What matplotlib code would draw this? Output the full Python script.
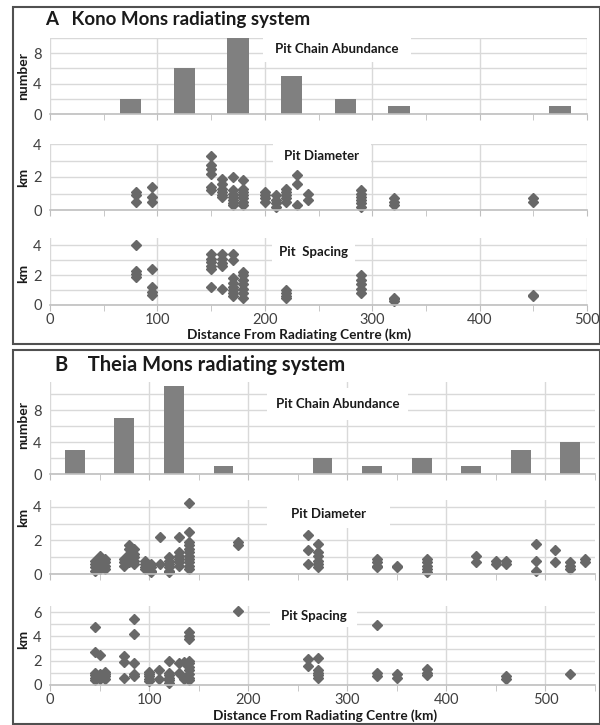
import matplotlib
matplotlib.use("Agg")
import matplotlib.pyplot as plt
from matplotlib.patches import Rectangle
from matplotlib.ticker import MultipleLocator, FixedLocator, NullFormatter

plt.rcParams['font.family'] = ['Lato', 'DejaVu Sans']

# ---------------- DATA ----------------
# Panel A: Kono Mons
a_bar_x = [75, 125, 175, 225, 275, 325, 475]
a_bar_n = [2, 6, 10, 5, 2, 1, 1]

a_diam_x = [80, 80, 80, 95, 95, 95,
            150, 150, 150, 150, 150, 150,
            160, 160, 160, 160, 160, 160,
            170, 170, 170, 170, 170, 170, 170,
            180, 180, 180, 180, 180, 180, 180,
            200, 200, 200, 200, 210, 210, 210, 210,
            220, 220, 220, 220, 220, 230, 230, 230, 240, 240,
            290, 290, 290, 290, 290, 290, 320, 320, 320, 450, 450]
a_diam_y = [1.1, 0.9, 0.5, 1.4, 0.8, 0.5,
            3.3, 2.7, 2.5, 2.2, 1.4, 1.2,
            1.9, 1.6, 1.3, 1.1, 0.9, 0.8,
            2.0, 1.2, 1.0, 0.8, 0.6, 0.4, 0.3,
            1.8, 1.3, 1.1, 0.9, 0.7, 0.5, 0.3,
            1.1, 0.9, 0.7, 0.5, 0.9, 0.6, 0.4, 0.2,
            1.3, 1.1, 0.9, 0.7, 0.5, 2.1, 1.6, 0.3, 1.0, 0.6,
            1.2, 1.0, 0.8, 0.6, 0.4, 0.2, 0.7, 0.5, 0.3, 0.7, 0.5]

a_spac_x = [80, 80, 80, 80, 95, 95, 95, 95,
            150, 150, 150, 150, 150, 150,
            160, 160, 160, 160, 160,
            170, 170, 170, 170, 170, 170, 170, 170,
            180, 180, 180, 180, 180, 180, 180,
            220, 220, 220, 220, 290, 290, 290, 290, 290,
            320, 320, 320, 450, 450]
a_spac_y = [4.0, 2.3, 2.1, 1.9, 2.4, 1.2, 0.9, 0.7,
            3.4, 3.1, 2.9, 2.6, 2.4, 1.2,
            3.4, 3.1, 2.8, 2.6, 1.1,
            3.4, 3.0, 1.8, 1.5, 1.2, 1.0, 0.8, 0.6,
            2.2, 2.0, 1.7, 1.4, 1.1, 0.8, 0.5,
            1.0, 0.8, 0.6, 0.5, 2.0, 1.7, 1.4, 1.1, 0.8,
            0.5, 0.4, 0.3, 0.7, 0.6]

# Panel B: Theia Mons
b_bar_x = [25, 75, 125, 175, 275, 325, 375, 425, 475, 525]
b_bar_n = [3, 7, 11, 1, 2, 1, 2, 1, 3, 4]

b_diam_x = [45, 45, 45, 45, 50, 50, 50, 50, 50, 55, 55, 55, 55,
            75, 75, 75, 80, 80, 80, 80, 80, 85, 85, 85, 85, 85,
            96, 96, 96, 96, 102, 102, 102, 102, 111, 111,
            120, 120, 120, 120, 120, 120, 130, 130, 130, 130, 130, 130,
            140, 140, 140, 140, 140, 140, 140, 140, 140, 140, 140,
            190, 190, 260, 260, 260, 270, 270, 270, 270, 270, 270,
            330, 330, 330, 330, 350, 350, 380, 380, 380, 380, 380,
            430, 430, 450, 450, 460, 460, 490, 490, 490, 510, 510,
            525, 525, 525, 540, 540]
b_diam_y = [0.2, 0.4, 0.6, 0.8, 0.3, 0.5, 0.7, 0.9, 1.1, 0.3, 0.5, 0.7, 0.9,
            0.5, 0.7, 0.9, 1.7, 1.5, 1.2, 0.9, 0.7, 1.5, 1.2, 1.0, 0.8, 0.6,
            0.8, 0.6, 0.4, 0.3, 0.6, 0.4, 0.2, 0.1, 2.2, 0.6,
            1.0, 0.8, 0.6, 0.4, 0.2, 0.1, 2.2, 1.3, 1.1, 0.9, 0.7, 0.5,
            4.2, 2.5, 1.9, 1.7, 1.5, 1.3, 1.1, 0.9, 0.7, 0.5, 0.3,
            1.9, 1.7, 2.3, 1.4, 0.6, 1.8, 1.3, 1.1, 0.8, 0.6, 0.4,
            0.9, 0.7, 0.5, 0.4, 0.5, 0.4, 0.9, 0.7, 0.5, 0.3, 0.1,
            1.1, 0.7, 0.8, 0.6, 0.8, 0.6, 1.8, 0.8, 0.2, 1.4, 0.7,
            0.7, 0.5, 0.3, 0.9, 0.7]

b_spac_x = [45, 45, 45, 45, 45, 45, 50, 50, 50, 50, 55, 55, 55, 55,
            75, 75, 75, 85, 85, 85, 85, 85, 100, 100, 100, 100, 100,
            110, 110, 120, 120, 120, 120, 120, 120, 130, 130, 135, 135,
            140, 140, 140, 140, 140, 140, 140, 140, 140, 140, 190,
            260, 260, 270, 270, 270, 270, 270, 330, 330, 330,
            350, 350, 380, 380, 380, 460, 460, 525]
b_spac_y = [4.8, 2.7, 1.0, 0.8, 0.6, 0.4, 2.5, 0.9, 0.7, 0.5, 1.1, 0.9, 0.7, 0.5,
            2.4, 1.9, 0.6, 5.4, 4.2, 1.8, 0.9, 0.7, 1.1, 0.9, 0.7, 0.5, 0.3,
            1.2, 0.5, 2.0, 1.0, 0.8, 0.6, 0.4, 0.2, 1.8, 1.0, 1.9, 0.5,
            4.4, 4.0, 3.8, 2.0, 1.8, 1.5, 1.2, 0.9, 0.6, 0.4, 6.1,
            2.1, 1.6, 2.2, 1.2, 1.0, 0.8, 0.6, 4.9, 1.0, 0.7,
            0.9, 0.6, 1.3, 1.0, 0.8, 0.7, 0.5, 0.9]

# ---------------- STYLE ----------------
W, H = 600, 725
fig = plt.figure(figsize=(W / 100, H / 100), dpi=100)
fig.patch.set_facecolor('white')

GRID = '#d9d9d9'
BAR = '#808080'
PT = '#686868'
TXT = '#404040'


def make_ax(l, t, r, b):
    return fig.add_axes([l / W, 1 - b / H, (r - l) / W, (b - t) / H])


def style(ax, xlim, ylim, ymaj, ymin, show_x):
    ax.set_xlim(*xlim)
    ax.set_ylim(*ylim)
    ax.set_axisbelow(True)
    for s in ['left', 'right', 'top']:
        ax.spines[s].set_visible(False)
    ax.spines['bottom'].set_color('#bfbfbf')
    ax.spines['bottom'].set_linewidth(1.2)
    ax.xaxis.set_major_locator(FixedLocator(list(range(0, int(xlim[1]) + 1, 100))))
    ax.xaxis.set_minor_locator(MultipleLocator(50))
    ax.yaxis.set_major_locator(FixedLocator(ymaj))
    ax.yaxis.set_minor_locator(FixedLocator(ymin))
    ax.grid(True, which='major', axis='x', color=GRID, lw=1.0)
    ax.grid(True, which='both', axis='y', color=GRID, lw=1.0)
    ax.tick_params(axis='x', which='both', direction='out', length=4,
                   color='#bfbfbf', labelsize=10.5, labelcolor=TXT, pad=2)
    ax.tick_params(axis='y', which='both', length=0, labelsize=10.5,
                   labelcolor=TXT, pad=6)
    if not show_x:
        ax.xaxis.set_major_formatter(NullFormatter())


def label_box(ax, axbox, px, text, fs=9.5):
    l, t, r, b = axbox
    x0, y0, x1, y1 = px
    fx0 = (x0 - l) / (r - l)
    fx1 = (x1 - l) / (r - l)
    fy0 = (b - y1) / (b - t)
    fy1 = (b - y0) / (b - t)
    ax.add_patch(Rectangle((fx0, fy0), fx1 - fx0, fy1 - fy0, transform=ax.transAxes,
                           facecolor='white', edgecolor='none', zorder=1.5, clip_on=False))
    ax.text((fx0 + fx1) / 2, (fy0 + fy1) / 2, text, transform=ax.transAxes,
            ha='center', va='center', fontsize=fs, fontweight='bold', color='#1a1a1a', zorder=3)


# ---------------- PANEL A ----------------
A1 = (50, 38, 587, 114)
ax = make_ax(*A1)
style(ax, (0, 500), (0, 10), [0, 4, 8], [2, 6, 10], False)
ax.bar(a_bar_x, a_bar_n, width=20, color=BAR, zorder=2)
label_box(ax, A1, (263, 36, 411, 62), 'Pit Chain Abundance')

A2 = (50, 144, 587, 210)
ax = make_ax(*A2)
style(ax, (0, 500), (0, 4), [0, 2, 4], [1, 3], False)
ax.plot(a_diam_x, a_diam_y, 'D', ms=4.6, color=PT, zorder=2, clip_on=False)
label_box(ax, A2, (273, 143, 371, 170), 'Pit Diameter')

A3 = (50, 238, 587, 305)
ax = make_ax(*A3)
style(ax, (0, 500), (0, 4.5), [0, 2, 4], [1, 3], True)
ax.plot(a_spac_x, a_spac_y, 'D', ms=4.6, color=PT, zorder=2, clip_on=False)
label_box(ax, A3, (272, 238, 355, 266), 'Pit  Spacing')

# ---------------- PANEL B ----------------
B1 = (50, 382, 595, 474)
ax = make_ax(*B1)
style(ax, (0, 550), (0, 11.5), [0, 4, 8], [2, 6, 10], False)
ax.bar(b_bar_x, b_bar_n, width=20, color=BAR, zorder=2)
label_box(ax, B1, (267, 388, 408, 420), 'Pit Chain Abundance')

B2 = (50, 500, 595, 574)
ax = make_ax(*B2)
style(ax, (0, 550), (0, 4.4), [0, 2, 4], [1, 3], False)
ax.plot(b_diam_x, b_diam_y, 'D', ms=4.6, color=PT, zorder=2, clip_on=False)
label_box(ax, B2, (267, 500, 390, 528), 'Pit Diameter')

B3 = (50, 606, 595, 685)
ax = make_ax(*B3)
style(ax, (0, 550), (0, 6.5), [0, 2, 4, 6], [1, 3, 5], True)
ax.plot(b_spac_x, b_spac_y, 'D', ms=4.6, color=PT, zorder=2, clip_on=False)
label_box(ax, B3, (270, 604, 357, 627), 'Pit Spacing')

# ---------------- FIGURE TEXT ----------------
def ftext(x, y, s, **kw):
    fig.text(x / W, 1 - y / H, s, **kw)

ftext(45, 19, 'A   Kono Mons radiating system', fontsize=13.5, fontweight='bold',
      va='center', ha='left', color='#1a1a1a')
ftext(55, 365, 'B    Theia Mons radiating system', fontsize=14.5, fontweight='bold',
      va='center', ha='left', color='#1a1a1a')

for (yy, s) in [(76, 'number'), (177, 'km'), (273, 'km'),
                (425, 'number'), (517, 'km'), (639, 'km')]:
    ftext(23, yy, s, rotation=90, fontsize=10, fontweight='bold',
          ha='center', va='center', color='#1a1a1a')

ftext(299, 335, 'Distance From Radiating Centre (km)', fontsize=9.8, fontweight='bold',
      ha='center', va='center', color='#1a1a1a')
ftext(325, 716, 'Distance From Radiating Centre (km)', fontsize=9.8, fontweight='bold',
      ha='center', va='center', color='#1a1a1a')

# panel borders
fig.add_artist(Rectangle((13 / W, 1 - 344 / H), (600 - 13) / W, (344 - 7) / H,
                         transform=fig.transFigure, facecolor='none',
                         edgecolor='#505050', lw=1.5))
fig.add_artist(Rectangle((13 / W, 1 - 724 / H), (600 - 13) / W, (724 - 350) / H,
                         transform=fig.transFigure, facecolor='none',
                         edgecolor='#505050', lw=1.5))

fig.savefig('out.png', dpi=100, facecolor='white')
